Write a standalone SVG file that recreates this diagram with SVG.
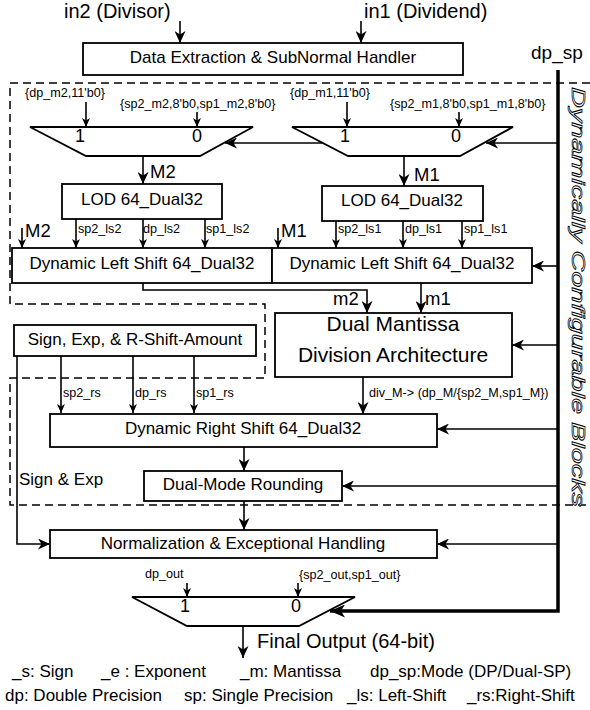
<svg xmlns="http://www.w3.org/2000/svg" width="590" height="710" viewBox="0 0 590 710">
<defs>
<style>
text{font-family:"Liberation Sans",Arial,Helvetica,sans-serif;fill:#000}
.box{fill:#fff;stroke:#000;stroke-width:1.8}
.ln{fill:none;stroke:#000;stroke-width:1.6}
.thick{fill:none;stroke:#000;stroke-width:3.5}
.dash{fill:none;stroke:#000;stroke-width:1.5;stroke-dasharray:8 5}
.t17{font-size:17px}
.t12{font-size:12.6px}
.t18{font-size:18.5px}
.dig{font-size:18px;text-anchor:middle}
.mid{text-anchor:middle}
.big{marker-end:url(#ah)}
.sm{marker-end:url(#as)}
</style>
<marker id="ah" markerUnits="userSpaceOnUse" markerWidth="13" markerHeight="11" refX="12" refY="5.5" orient="auto">
<path d="M0,0 L12,5.5 L0,11 L3.5,5.5 z" fill="#000"/>
</marker>
<marker id="as" markerUnits="userSpaceOnUse" markerWidth="9" markerHeight="8" refX="9" refY="4" orient="auto">
<path d="M0,0 L9,4 L0,8 L2.5,4 z" fill="#000"/>
</marker>
<marker id="at" markerUnits="userSpaceOnUse" markerWidth="16" markerHeight="13" refX="15" refY="6.5" orient="auto">
<path d="M0,0 L15,6.5 L0,13 L4,6.5 z" fill="#000"/>
</marker>
</defs>
<rect width="590" height="710" fill="#fff"/>

<!-- dashed configurable region -->
<path class="dash" d="M590,83 H10 V304 H265 V378 H10 V505 H590"/>
<text transform="translate(572,87) rotate(90)" font-size="18" font-style="italic" textLength="420" lengthAdjust="spacingAndGlyphs" style="fill:#fff;stroke:#000;stroke-width:0.7">Dynamically Configurable Blocks</text>

<!-- inputs -->
<g id="inputs">
<text x="64" y="18" font-size="20">in2 (Divisor)</text>
<text x="364" y="18" font-size="20">in1 (Dividend)</text>
<text x="531" y="59" font-size="19">dp_sp</text>
</g>

<g id="connectors">
<path class="ln big" d="M180,21 V43"/>
<path class="ln big" d="M361,21 V43"/>
<path class="thick" d="M558,70 V611 H330" marker-end="url(#at)"/>
<path class="ln big" d="M558,143 H486"/>
<path class="ln big" d="M323,143 H225"/>
<path class="ln sm" d="M86,102 V127"/>
<path class="ln sm" d="M197,112 V127"/>
<path class="ln sm" d="M347,102 V127"/>
<path class="ln sm" d="M459,112 V127"/>
<path class="ln big" d="M143,156 V184"/>
<path class="ln big" d="M404,156 V186"/>
<path class="ln sm" d="M76,219 V248"/>
<path class="ln sm" d="M143,219 V248"/>
<path class="ln sm" d="M205,219 V248"/>
<path class="ln sm" d="M336,221 V248"/>
<path class="ln sm" d="M403,221 V248"/>
<path class="ln sm" d="M462,221 V248"/>
<path class="ln sm" d="M22,228 V248"/>
<path class="ln sm" d="M278,228 V248"/>
<path class="ln big" d="M558,266 H532"/>
<path class="ln big" d="M143,283 V290 H367 V313"/>
<path class="ln big" d="M421,283 V313"/>
<path class="ln big" d="M558,345 H512"/>
<path class="ln sm" d="M61,356 V413"/>
<path class="ln sm" d="M133,356 V413"/>
<path class="ln sm" d="M194,356 V413"/>
<path class="ln big" d="M363,377 V414"/>
<path class="ln big" d="M558,429 H437"/>
<path class="ln big" d="M244,447 V471"/>
<path class="ln big" d="M558,486 H342"/>
<path class="ln big" d="M244,501 V530"/>
<path class="ln big" d="M17,356 V544 H50"/>
<path class="ln big" d="M558,544 H437"/>
<path class="ln sm" d="M187,583 V597"/>
<path class="ln sm" d="M298,583 V597"/>
<path class="ln big" d="M243,626 V658"/>
</g>

<g id="extract">
<rect class="box" x="83" y="43" width="380" height="32"/>
<text class="t17 mid" x="273" y="63">Data Extraction &amp; SubNormal Handler</text>
</g>

<g id="mux2">
<polygon class="box" points="30,127 253,127 200,156 86,156"/>
<text class="dig" x="80" y="142">1</text>
<text class="dig" x="197" y="142">0</text>
<text class="t12" x="25" y="97">{dp_m2,11'b0}</text>
<text class="t12" x="120" y="108">{sp2_m2,8'b0,sp1_m2,8'b0}</text>
<text class="t18" x="150" y="178">M2</text>
</g>

<g id="mux1">
<polygon class="box" points="292,127 513,127 460,156 348,156"/>
<text class="dig" x="345" y="142">1</text>
<text class="dig" x="456" y="142">0</text>
<text class="t12" x="290" y="97">{dp_m1,11'b0}</text>
<text class="t12" x="390" y="108">{sp2_m1,8'b0,sp1_m1,8'b0}</text>
<text class="t18" x="414" y="181">M1</text>
</g>

<g id="lod2">
<rect class="box" x="62" y="184" width="160" height="35"/>
<text class="t17 mid" x="142" y="205">LOD 64_Dual32</text>
<text class="t12" x="78" y="233">sp2_ls2</text>
<text class="t12" x="143" y="233">dp_ls2</text>
<text class="t12" x="206" y="233">sp1_ls2</text>
</g>

<g id="lod1">
<rect class="box" x="322" y="186" width="161" height="35"/>
<text class="t17 mid" x="402" y="206">LOD 64_Dual32</text>
<text class="t12" x="338" y="233">sp2_ls1</text>
<text class="t12" x="405" y="233">dp_ls1</text>
<text class="t12" x="464" y="233">sp1_ls1</text>
</g>

<g id="dls2">
<rect class="box" x="12" y="248" width="260" height="35"/>
<text class="t17 mid" x="142" y="269">Dynamic Left Shift 64_Dual32</text>
<text class="t18" x="25" y="237">M2</text>
</g>

<g id="dls1">
<rect class="box" x="272" y="248" width="260" height="35"/>
<text class="t17 mid" x="402" y="269">Dynamic Left Shift 64_Dual32</text>
<text class="t18" x="281" y="237">M1</text>
<text class="t18" x="333" y="305">m2</text>
<text class="t18" x="425" y="305">m1</text>
</g>

<g id="signexp">
<rect class="box" x="14" y="325" width="242" height="31"/>
<text class="t17 mid" x="135" y="345">Sign, Exp, &amp; R-Shift-Amount</text>
<text class="t12" x="63" y="397">sp2_rs</text>
<text class="t12" x="135" y="397">dp_rs</text>
<text class="t12" x="196" y="397">sp1_rs</text>
<text class="t17" x="19" y="485">Sign &amp; Exp</text>
</g>

<g id="divider">
<rect class="box" x="275" y="313" width="237" height="64"/>
<text class="mid" font-size="21" x="393" y="331">Dual Mantissa</text>
<text class="mid" font-size="21" x="393" y="362">Division Architecture</text>
<text class="t12" x="369" y="397">div_M-&gt; (dp_M/{sp2_M,sp1_M})</text>
</g>

<g id="drs">
<rect class="box" x="50" y="414" width="387" height="33"/>
<text class="t17 mid" x="243" y="434">Dynamic Right Shift 64_Dual32</text>
</g>

<g id="round">
<rect class="box" x="144" y="471" width="198" height="30"/>
<text class="t17 mid" x="243" y="490">Dual-Mode Rounding</text>
</g>

<g id="norm">
<rect class="box" x="50" y="530" width="387" height="28"/>
<text class="t17 mid" x="243" y="549">Normalization &amp; Exceptional Handling</text>
</g>

<g id="outmux">
<polygon class="box" points="132,597 355,597 299,626 187,626"/>
<text class="dig" x="185" y="612">1</text>
<text class="dig" x="296" y="612">0</text>
<text class="t12" x="145" y="578">dp_out</text>
<text class="t12" x="299" y="579">{sp2_out,sp1_out}</text>
<text font-size="20" x="257" y="648">Final Output (64-bit)</text>
</g>

<g id="legend">
<text class="t17" x="12" y="677">_s: Sign</text>
<text class="t17" x="101" y="677">_e : Exponent</text>
<text class="t17" x="240" y="677">_m: Mantissa</text>
<text class="t17" x="370" y="677">dp_sp:Mode (DP/Dual-SP)</text>
<text class="t17" x="5" y="701">dp: Double Precision</text>
<text class="t17" x="184" y="701">sp: Single Precision</text>
<text class="t17" x="347" y="701">_ls: Left-Shift</text>
<text class="t17" x="467" y="701">_rs:Right-Shift</text>
</g>
</svg>
